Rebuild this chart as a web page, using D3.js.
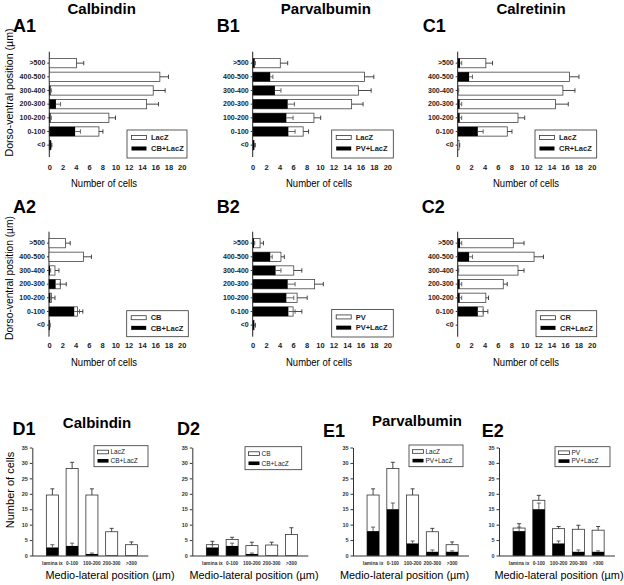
<!DOCTYPE html>
<html><head><meta charset="utf-8">
<script src="https://cdn.jsdelivr.net/npm/d3@7"></script>
<style>body{margin:0;background:#fff}svg{display:block}text{font-family:"Liberation Sans",Arial,sans-serif}</style>
</head><body>
<svg id="c" width="624" height="585"></svg>
<script>
// ---------- data ----------
const dvCats = [">500","400-500","300-400","200-300","100-200","0-100","<0"];
const mlCats = ["lamina ix","0-100","100-200","200-300",">300"];
const xTicksTop = [0,2,4,6,8,10,12,14,16,18,20];
const yTicksBottom = [0,5,10,15,20,25,30,35];

const a1LacZ = [4.1,16.7,15.7,14.7,9.0,7.5,0.2];
const a1LacZErr = [1.1,1.3,1.8,1.8,1.0,0.6,0.1];
const a1CbLacZ = [0,0,0.2,1.0,0.2,3.9,0.3];
const a1CbLacZErr = [0,0,0.1,0.7,0.1,0.8,0.1];

const b1LacZ = [4.1,16.6,15.7,14.7,9.1,7.5,0.2];
const b1LacZErr = [1.1,1.4,1.9,1.7,1.0,0.8,0.1];
const b1PvLacZ = [0.3,2.6,3.3,5.2,5.0,5.3,0.2];
const b1PvLacZErr = [0.1,0.4,0.9,1.0,1.0,1.0,0.2];

const c1LacZ = [4.2,16.7,15.7,14.6,9.0,7.4,0.2];
const c1LacZErr = [1.0,1.4,1.8,1.9,1.0,0.7,0.1];
const c1CrLacZ = [0.35,1.7,0.1,0.3,0.3,3.0,0];
const c1CrLacZErr = [0.25,0.5,0.05,0.3,0.3,0.8,0];

const a2Cb = [2.5,5.2,0.9,1.7,0.35,4.3,0.1];
const a2CbErr = [0.7,1.2,0.6,0.9,0.55,0.8,0.05];
const a2CbLacZ = [0,0,0.15,1.0,0.2,3.8,0.1];
const a2CbLacZErr = [0,0,0.1,0.7,0.1,0.8,0.05];

const b2Pv = [1.1,4.2,6.1,9.2,6.6,6.0,0.2];
const b2PvErr = [0.5,0.5,1.2,1.3,1.5,1.3,0.2];
const b2PvLacZ = [0.2,2.6,3.4,5.2,5.0,5.3,0.2];
const b2PvLacZErr = [0.1,0.3,0.8,1.1,1.1,1.0,0.2];

const c2Cr = [8.3,11.4,9.0,6.8,4.2,3.8,0];
const c2CrErr = [1.6,1.4,0.9,0.6,0.4,0.7,0];
const c2CrLacZ = [0.35,1.7,0.1,0.3,0.3,3.0,0];
const c2CrLacZErr = [0.25,0.5,0.05,0.3,0.3,0.8,0];

const d1LacZ = [19.6,28.2,19.6,7.7,3.5];
const d1LacZErr = [2.0,2.0,2.0,1.1,0.9];
const d1CbLacZ = [2.6,3.1,0.5,0,0];
const d1CbLacZErr = [0.9,0.9,0.3,0,0];

const d2Cb = [3.5,5.2,3.2,3.4,6.8];
const d2CbErr = [1.1,0.7,1.1,0.9,2.2];
const d2CbLacZ = [2.6,3.1,0.5,0,0];
const d2CbLacZErr = [0.9,0.9,0.3,0,0];

const e1LacZ = [19.6,28.2,19.6,7.7,3.5];
const e1LacZErr = [2.0,2.0,2.0,1.1,0.9];
const e1PvLacZ = [7.9,15.0,3.9,1.2,1.2];
const e1PvLacZErr = [1.3,2.0,0.8,0.6,0.3];

const e2Pv = [8.9,17.9,8.7,8.5,8.2];
const e2PvErr = [1.4,1.6,0.7,1.3,1.2];
const e2PvLacZ = [7.9,15.0,3.9,1.2,1.2];
const e2PvLacZErr = [1.3,2.0,0.8,0.6,0.3];

// ---------- drawing ----------
const svg = d3.select("#c");
svg.append("rect").attr("width",624).attr("height",585).attr("fill","#fff");
const FONT = '"Liberation Sans",Arial,sans-serif';

function txt(x,y,s,size,weight,anchor,opts={}){
  const t = svg.append("text").attr("x",x).attr("y",y).text(s)
    .attr("font-size",size).attr("font-weight",weight||"normal")
    .attr("text-anchor",anchor||"start").attr("fill",opts.fill||"#000");
  if(opts.len) t.attr("textLength",opts.len).attr("lengthAdjust","spacingAndGlyphs");
  if(opts.rot) t.attr("transform",`rotate(-90,${x},${y})`);
  return t;
}

function hPanel(p){
  const x = d3.scaleLinear().domain([0,20]).range([p.x0,p.x20]);
  const y = d3.scaleBand().domain(dvCats).range([p.bTop,p.bBot]).paddingInner(0.32).paddingOuter(0.16);
  const g = svg.append("g");
  g.append("line").attr("x1",p.x0).attr("x2",p.x0).attr("y1",p.aTop).attr("y2",p.aBot)
    .attr("stroke","#222").attr("stroke-width",1);
  const ax = g.append("g").attr("transform",`translate(${p.x0},0)`)
    .call(d3.axisLeft(y).tickSize(2).tickPadding(2));
  ax.select(".domain").remove();
  ax.selectAll("line").attr("stroke","#333");
  ax.selectAll("text").attr("font-size",7).attr("font-weight","bold").attr("font-family",FONT).attr("fill","#222");
  const axx = g.append("g").attr("transform",`translate(0,${p.tickY})`)
    .call(d3.axisBottom(x).tickValues(xTicksTop).tickSize(0).tickPadding(0));
  axx.select(".domain").remove();
  axx.selectAll("text").attr("font-size",7.5).attr("font-weight","bold").attr("font-family",FONT).attr("fill","#222");
  const bh = y.bandwidth();
  g.selectAll(".o").data(p.open).join("rect")
    .attr("x",p.x0).attr("y",(d,i)=>y(dvCats[i]))
    .attr("width",d=>Math.max(0,x(d)-p.x0)).attr("height",bh)
    .attr("fill","#fff").attr("stroke","#444").attr("stroke-width",0.8);
  const eb = (vals,errs,col)=>vals.forEach((v,i)=>{
    const e = errs[i]; if(!e) return;
    const cy = y(dvCats[i])+bh/2;
    g.append("line").attr("x1",x(v)).attr("x2",x(v+e)).attr("y1",cy).attr("y2",cy).attr("stroke",col).attr("stroke-width",0.9);
    g.append("line").attr("x1",x(v+e)).attr("x2",x(v+e)).attr("y1",cy-2.2).attr("y2",cy+2.2).attr("stroke",col).attr("stroke-width",0.9);
  });
  eb(p.open,p.openErr,"#333");
  g.selectAll(".b").data(p.black).join("rect")
    .attr("x",p.x0).attr("y",(d,i)=>y(dvCats[i]))
    .attr("width",d=>Math.max(0,x(d)-p.x0)).attr("height",bh)
    .attr("fill","#000");
  eb(p.black,p.blackErr,"#555");
  const L = p.leg;
  g.append("rect").attr("x",L.x).attr("y",L.y).attr("width",L.w).attr("height",L.h)
    .attr("fill","#fff").attr("stroke","#333").attr("stroke-width",0.8);
  const r1 = L.y+L.h*0.27, r2 = L.y+L.h*0.66;
  g.append("rect").attr("x",L.x+4.5).attr("y",r1-2).attr("width",15).attr("height",4)
    .attr("fill","#fff").attr("stroke","#333").attr("stroke-width",0.8);
  g.append("rect").attr("x",L.x+4.5).attr("y",r2-2).attr("width",15).attr("height",4).attr("fill","#000");
  txt(L.x+24,r1+2.7,p.names[0],7.5,"bold","start",{fill:"#222"});
  txt(L.x+24,r2+2.7,p.names[1],7.5,"bold","start",{fill:"#222"});
}

function vPanel(p){
  const x = d3.scaleBand().domain(mlCats).range([p.ax+10.1,p.ax+10.1+5*19.8]).paddingInner(0.39).paddingOuter(0.2);
  const y = d3.scaleLinear().domain([0,35]).range([555.5,447.5]);
  const g = svg.append("g");
  const ay = g.append("g").attr("transform",`translate(${p.ax},0)`)
    .call(d3.axisLeft(y).tickValues(yTicksBottom).tickSize(2.5).tickPadding(2).tickSizeOuter(0));
  ay.select(".domain").attr("stroke","#333");
  ay.selectAll("line").attr("stroke","#333");
  ay.selectAll("text").attr("font-size",5.5).attr("font-weight","bold").attr("font-family",FONT).attr("fill","#333");
  const axx = g.append("g").attr("transform",`translate(0,555.5)`)
    .call(d3.axisBottom(x).tickSize(0).tickPadding(6.5).tickSizeOuter(0));
  axx.select(".domain").attr("d",`M${p.ax},0.5H${p.ax+116}`).attr("stroke","#333");
  axx.selectAll("text").attr("font-size",4.8).attr("font-weight","bold").attr("font-family",FONT).attr("fill","#333");
  const bw = x.bandwidth();
  g.selectAll(".o").data(p.open).join("rect")
    .attr("x",(d,i)=>x(mlCats[i])).attr("y",d=>y(d)).attr("width",bw).attr("height",d=>y(0)-y(d))
    .attr("fill","#fff").attr("stroke","#333").attr("stroke-width",0.8);
  const eb = (vals,errs,col)=>vals.forEach((v,i)=>{
    const e=errs[i]; if(!e) return;
    const cx = x(mlCats[i])+bw/2;
    g.append("line").attr("x1",cx).attr("x2",cx).attr("y1",y(v)).attr("y2",y(v+e)).attr("stroke",col).attr("stroke-width",0.9);
    g.append("line").attr("x1",cx-2).attr("x2",cx+2).attr("y1",y(v+e)).attr("y2",y(v+e)).attr("stroke",col).attr("stroke-width",0.9);
  });
  eb(p.open,p.openErr,"#333");
  g.selectAll(".b").data(p.black).join("rect")
    .attr("x",(d,i)=>x(mlCats[i])).attr("y",d=>y(d)).attr("width",bw).attr("height",d=>y(0)-y(d))
    .attr("fill","#000");
  eb(p.black,p.blackErr,"#555");
  const L = p.leg;
  g.append("rect").attr("x",L.x).attr("y",L.y).attr("width",L.w).attr("height",L.h)
    .attr("fill","#fff").attr("stroke","#333").attr("stroke-width",0.8);
  const r1 = L.y+L.h*0.3, r2 = L.y+L.h*0.72;
  g.append("rect").attr("x",L.x+3.5).attr("y",r1-1.8).attr("width",11).attr("height",3.6)
    .attr("fill","#fff").attr("stroke","#333").attr("stroke-width",0.8);
  g.append("rect").attr("x",L.x+3.5).attr("y",r2-1.8).attr("width",11).attr("height",3.6).attr("fill","#000");
  txt(L.x+16.5,r1+2.3,p.names[0],6.5,"normal","start",{fill:"#222"});
  txt(L.x+16.5,r2+2.3,p.names[1],6.5,"normal","start",{fill:"#222"});
}

// top rows
const row1 = {bTop:56.3,bBot:152.0,aTop:51.7,aBot:157,tickY:164.8};
const row2 = {bTop:236.3,bBot:332.0,aTop:231.7,aBot:336.7,tickY:342.8};
hPanel({...row1,x0:49.3,x20:181.7,open:a1LacZ,openErr:a1LacZErr,black:a1CbLacZ,blackErr:a1CbLacZErr,
  leg:{x:127,y:130,w:60,h:28},names:["LacZ","CB+LacZ"]});
hPanel({...row1,x0:252.7,x20:387.3,open:b1LacZ,openErr:b1LacZErr,black:b1PvLacZ,blackErr:b1PvLacZErr,
  leg:{x:331.7,y:130,w:61.6,h:28},names:["LacZ","PV+LacZ"]});
hPanel({...row1,x0:457.7,x20:591.7,open:c1LacZ,openErr:c1LacZErr,black:c1CrLacZ,blackErr:c1CrLacZErr,
  leg:{x:535,y:130,w:61.7,h:28},names:["LacZ","CR+LacZ"]});
hPanel({...row2,x0:49,x20:181.7,open:a2Cb,openErr:a2CbErr,black:a2CbLacZ,blackErr:a2CbLacZErr,
  leg:{x:126.7,y:310.7,w:61.6,h:26},names:["CB","CB+LacZ"]});
hPanel({...row2,x0:252.7,x20:387.3,open:b2Pv,openErr:b2PvErr,black:b2PvLacZ,blackErr:b2PvLacZErr,
  leg:{x:331.7,y:309.5,w:61.6,h:27.5},names:["PV","PV+LacZ"]});
hPanel({...row2,x0:457.7,x20:591.7,open:c2Cr,openErr:c2CrErr,black:c2CrLacZ,blackErr:c2CrLacZErr,
  leg:{x:536,y:310.7,w:60.7,h:26},names:["CR","CR+LacZ"]});

// bottom row
vPanel({ax:32.3,open:d1LacZ,openErr:d1LacZErr,black:d1CbLacZ,blackErr:d1CbLacZErr,
  leg:{x:94,y:445.7,w:54,h:21},names:["LacZ","CB+LacZ"]});
vPanel({ax:192.3,open:d2Cb,openErr:d2CbErr,black:d2CbLacZ,blackErr:d2CbLacZErr,
  leg:{x:245,y:446.7,w:56.7,h:23},names:["CB","CB+LacZ"]});
vPanel({ax:353,open:e1LacZ,openErr:e1LacZErr,black:e1PvLacZ,blackErr:e1PvLacZErr,
  leg:{x:409,y:445,w:54,h:21.7},names:["LacZ","PV+LacZ"]});
vPanel({ax:499,open:e2Pv,openErr:e2PvErr,black:e2PvLacZ,blackErr:e2PvLacZErr,
  leg:{x:555,y:446.7,w:55,h:20},names:["PV","PV+LacZ"]});

// titles and panel letters
txt(101.7,14,"Calbindin",15,"bold","middle");
txt(325.8,14,"Parvalbumin",15,"bold","middle");
txt(531,14,"Calretinin",15,"bold","middle");
txt(13,31.7,"A1",18,"bold");
txt(216.7,31.7,"B1",18,"bold");
txt(422.7,31.7,"C1",18,"bold");
txt(13,212.7,"A2",18,"bold");
txt(216.7,213,"B2",18,"bold");
txt(421.7,213,"C2",18,"bold");
txt(97,428,"Calbindin",15,"bold","middle");
txt(417,426,"Parvalbumin",15,"bold","middle");
txt(12.5,435,"D1",18,"bold");
txt(177,435,"D2",18,"bold");
txt(323,436.7,"E1",18,"bold");
txt(481.7,436.7,"E2",18,"bold");

// axis titles
txt(13,92.5,"Dorso-ventral position (µm)",11,"normal","middle",{rot:true,len:128});
txt(13,278,"Dorso-ventral position (µm)",11,"normal","middle",{rot:true,len:124});
[[104,187],[319,187],[526,187],[104,366],[319,366],[526,366]].forEach(([cx,cy])=>
  txt(cx,cy,"Number of cells",11,"normal","middle",{len:66}));
txt(14,490,"Number of cells",11,"normal","middle",{rot:true});
[[110,579],[254,579],[404.5,579],[559,579]].forEach(([cx,cy])=>
  txt(cx,cy,"Medio-lateral position (µm)",11,"normal","middle",{len:129}));
</script>
</body></html>
